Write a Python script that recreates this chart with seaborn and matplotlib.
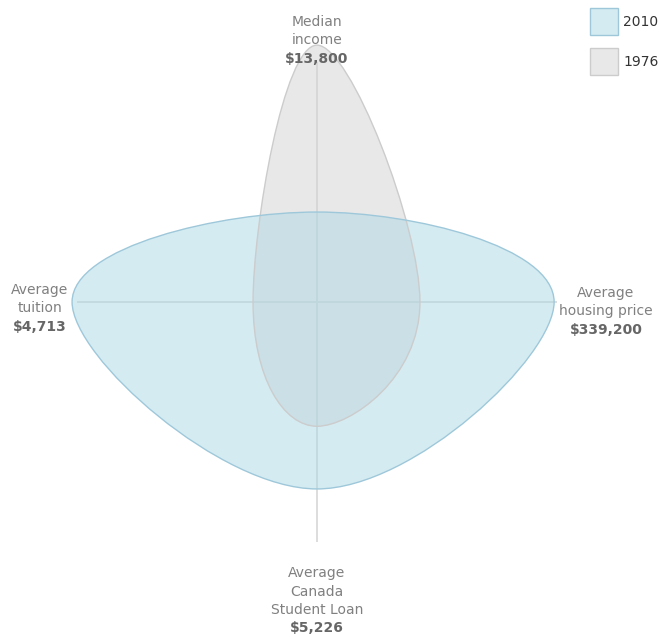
import numpy as np
import matplotlib
matplotlib.use("Agg")
import matplotlib.pyplot as plt
from matplotlib.path import Path
from matplotlib.patches import PathPatch, Rectangle
import seaborn as sns

# Axes of the radar, clockwise from the top
categories = ["Median\nincome", "Average\nhousing price",
              "Average\nCanada\nStudent Loan", "Average\ntuition"]
value_labels = ["$13,800", "$339,200", "$5,226", "$4,713"]

# Relative index on each axis (1.0 = outer edge)
series_names = ["2010", "1976"]
values_2010 = [0.346, 0.912, 0.719, 0.942]
values_1976 = [0.988, 0.396, 0.478, 0.246]

fill_colors = {"2010": "#add8e6", "1976": "#d3d3d3"}
edge_colors = {"2010": "#9ec8da", "1976": "#cccccc"}

sns.set_theme(style="white")
plt.rcParams["font.family"] = ["DejaVu Sans"]

W, H, DPI = 660, 637, 100
fig = plt.figure(figsize=(W / DPI, H / DPI), dpi=DPI)
ax = fig.add_axes([0, 0, 1, 1])
ax.set_xlim(0, W)
ax.set_ylim(H, 0)
ax.set_axis_off()

cx, cy = 317, 302
R = 260.0          # radius for an index of 1.0
axis_len = 240.0
angles = np.deg2rad([90, 0, -90, 180])


def to_xy(vals):
    r = np.asarray(vals) * R
    return np.column_stack([cx + r * np.cos(angles), cy - r * np.sin(angles)])


def cardinal_closed(pts, tension=0.6):
    """Closed cardinal spline through the points, as cubic Bezier segments."""
    a = (1 - tension) / 2
    n = len(pts)
    verts = [pts[0]]
    codes = [Path.MOVETO]
    for i in range(n):
        p0, p1 = pts[i - 1], pts[i]
        p2, p3 = pts[(i + 1) % n], pts[(i + 2) % n]
        c1 = p1 + a * (p2 - p0)
        c2 = p2 - a * (p3 - p1)
        verts += [c1, c2, p2]
        codes += [Path.CURVE4] * 3
    return Path(np.array(verts), codes)


# axis lines
for ang in angles:
    ax.plot([cx, cx + axis_len * np.cos(ang)], [cy, cy - axis_len * np.sin(ang)],
            color="#dddddd", lw=1.4, zorder=1, solid_capstyle="butt")

# shapes
for name, vals in [("1976", values_1976), ("2010", values_2010)]:
    path = cardinal_closed(to_xy(vals))
    ax.add_patch(PathPatch(path, facecolor=fill_colors[name], alpha=0.5,
                           edgecolor="none", zorder=2))
    ax.add_patch(PathPatch(path, facecolor="none", edgecolor=edge_colors[name],
                           lw=1.0, zorder=3))

# axis labels
label_pos = [(317, 22, "center"), (606, 293, "center"),
             (317, 573, "center"), (40, 290, "center")]
line_h = 18.5
for (x, y, ha), cat, val in zip(label_pos, categories, value_labels):
    lines = cat.split("\n")
    for k, line in enumerate(lines):
        ax.text(x, y + k * line_h, line, ha=ha, va="center", fontsize=10,
                color="#808080")
    ax.text(x, y + len(lines) * line_h, val, ha=ha, va="center", fontsize=10,
            color="#666666", fontweight="bold")

# legend
for k, name in enumerate(series_names):
    y0 = 8 + k * 40
    ax.add_patch(Rectangle((590, y0), 28, 27, facecolor=fill_colors[name],
                           alpha=0.5, edgecolor="none"))
    ax.add_patch(Rectangle((590, y0), 28, 27, facecolor="none",
                           edgecolor=edge_colors[name], lw=1.0))
    ax.text(623, y0 + 14, name, ha="left", va="center", fontsize=10,
            color="#333333")

fig.savefig("out.png", dpi=DPI)
